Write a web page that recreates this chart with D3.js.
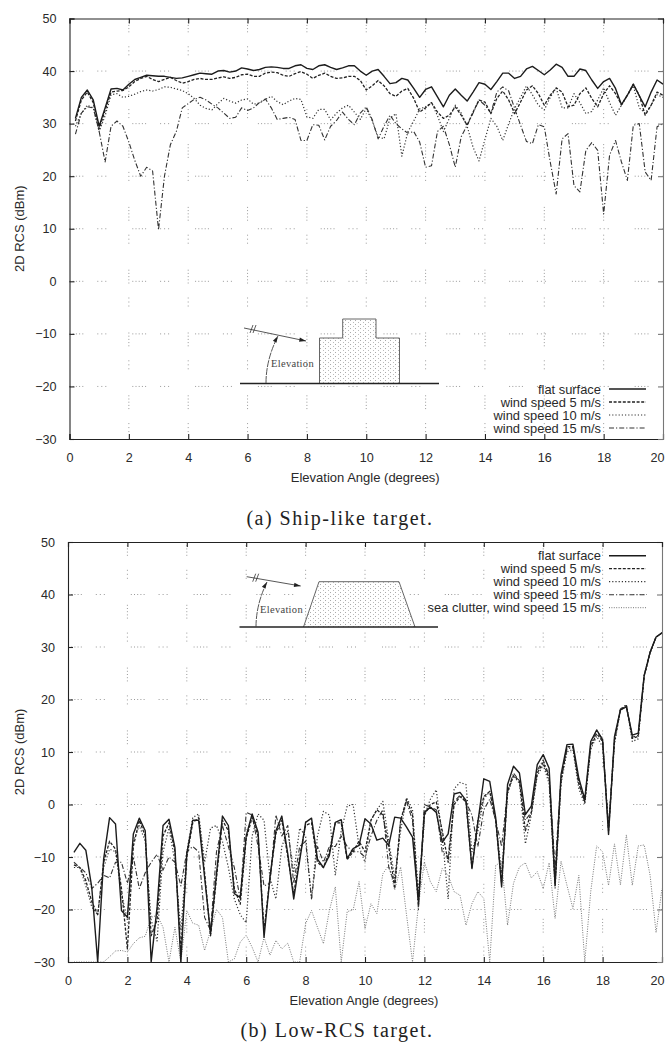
<!DOCTYPE html>
<html>
<head>
<meta charset="utf-8">
<script src="https://cdn.jsdelivr.net/npm/d3@7"></script>
<style>
  html, body { margin: 0; padding: 0; background: #fff; }
  svg { display: block; }
  text { font-family: "Liberation Sans", sans-serif; fill: #2a2a2a; }
  .caption { font-family: "Liberation Serif", serif; font-size: 20px; letter-spacing: 1.5px; fill: #222; }
  .tag { font-family: "Liberation Serif", serif; font-size: 10.5px; letter-spacing: 0.3px; fill: #444; }
</style>
</head>
<body>
<div id="chart"></div>
<script>
const angles = [
  0.2,0.4,0.6,0.8,1,1.2,1.4,1.6,1.8,2,
  2.2,2.4,2.6,2.8,3,3.2,3.4,3.6,3.8,4,
  4.2,4.4,4.6,4.8,5,5.2,5.4,5.6,5.8,6,
  6.2,6.4,6.6,6.8,7,7.2,7.4,7.6,7.8,8,
  8.2,8.4,8.6,8.8,9,9.2,9.4,9.6,9.8,10,
  10.2,10.4,10.6,10.8,11,11.2,11.4,11.6,11.8,12,
  12.2,12.4,12.6,12.8,13,13.2,13.4,13.6,13.8,14,
  14.2,14.4,14.6,14.8,15,15.2,15.4,15.6,15.8,16,
  16.2,16.4,16.6,16.8,17,17.2,17.4,17.6,17.8,18,
  18.2,18.4,18.6,18.8,19,19.2,19.4,19.6,19.8,20
];
const xTicks = [0,2,4,6,8,10,12,14,16,18,20];
const yTicks = [-30,-20,-10,0,10,20,30,40,50];

// (a) ship-like target
const shipFlat = [
  31,35,36.4,34.5,29.5,33,36.6,36.7,36.4,37.5,
  38.4,38.8,39.2,39.1,39,39,38.8,38.6,38.7,39,
  39.3,39.6,39.5,39.4,40,40.1,39.8,40,40.6,40.4,
  40.1,40.3,40.7,40.8,40.7,40.5,40.5,41,41.2,40.5,
  40.3,41,41.2,40.7,40.3,40.6,41,41,40,39.2,
  40,40.3,39,37.6,37.8,38.6,38.3,36.7,35,36.5,
  37,35.1,33.2,35.4,36.6,35.4,34.3,36,37.8,37.5,
  36.5,38,39.6,39.6,38.6,39,40.4,40.9,40.1,39.3,
  40.2,41.3,40.7,39,39,40.4,40.1,38.3,36.7,38,
  38.6,36.7,33.6,35.4,37.5,35.3,33.2,36,38.3,37.5
];
const shipWind5 = [
  30.5,34.5,36,34,29,32.5,36,36.2,36.3,37,
  38,38.6,39,38.4,38,38.4,38.8,38.2,37.7,38,
  38.4,38.6,38.4,38.4,38.7,38.9,38.6,38.8,39.3,39.4,
  39,39,39.6,39.8,39.7,39.2,39,39.5,39.9,39.4,
  38.6,39.2,39.6,39,38.6,38.7,39,39,38.2,36.4,
  37.2,38.2,37.2,35.7,35.2,36.2,36.7,34.8,32.2,33,
  34,32.2,31,31.6,33.2,31.6,29.7,32.2,34.5,34.1,
  31.9,34.8,36.2,34.5,31.9,34.1,36.4,37.2,35.7,33.5,
  35.4,36.8,36,33.2,33.5,35.7,36.8,34.8,33.2,35.7,
  37.2,35.7,33.6,35.4,37.5,35.4,31.6,33.5,36,35.4
];
const shipWind10 = [
  29.5,32,33.5,33,28.5,31.5,35.5,35.7,35,35.2,
  35.6,36.1,36.4,36.2,36.5,37,36.9,36.6,36.3,35.7,
  34.8,33.5,32.9,32.6,33.8,34.8,34.3,33.9,34.5,34.7,
  33.7,33.9,34.6,35.2,34.2,33.6,34.3,34.8,34.6,31.3,
  31,32.7,32.7,30.7,32,33,33.5,32.2,30.8,32.9,
  30.5,27.5,27.1,31,31.9,23.8,28.4,30.5,32.8,33.2,
  34,31.5,28.5,31,33.5,32,29.5,25.5,22.9,27,
  31,29.5,26.8,30,32.9,35,37.2,35.5,33.5,32.6,
  35,36.8,33,33,35.7,34,31.9,32.3,34.5,36.8,
  34,31.6,33.5,35.4,37.2,33,32,33.5,35.5,35
];
const shipWind15 = [
  28,32,33.2,33,28.5,22.7,29.5,30.5,29.5,26.5,
  23,20,21.7,21,9.8,20,26,28.5,33,33.8,
  34.6,35,34.5,33.7,33,32,31,31.2,33,32.5,
  33,34,34.7,33,30.8,31,31.2,30.8,26.8,26.8,
  29.8,29.7,26.9,29.5,30.6,32.2,30.8,29.8,32,33.2,
  30.8,27.1,29.5,31.6,30,29,28.2,28.5,26.5,21.7,
  22,28.5,29.5,26,21.7,27.5,29.7,32,34.5,33.5,
  32,36,37,36.2,32.9,29.7,26.6,26.2,29.8,29.4,
  22.7,16.6,27.1,28.1,18.2,17,24.9,26.4,24.9,12.8,
  24,26.8,22.7,19.2,29.7,30,20.8,19.2,29.4,30
];

// (b) low-RCS target
const lowFlat = [
  -9.1,-7.4,-8.7,-15.8,-30,-10.4,-2.5,-3.7,-20.2,-21.5,
  -5.6,-2.6,-5,-30,-19.5,-4,-2.8,-8.2,-30,-9.4,
  -3,-3,-13.9,-24.6,-13.2,-2.2,-4,-17,-17.7,-6,
  -1.8,-5.3,-25.3,-13.9,-5,-2.2,-9.4,-18,-10.7,-3.4,
  -2.6,-10.4,-12,-9.7,-3.4,-2.9,-10.3,-8.4,-7.8,-2.7,
  -3.7,-6.8,-6.4,-7.8,-2.4,-2.6,-4.3,-6.2,-18.5,-1.5,
  -0.5,-1.5,-7.2,-5.6,2,2.3,0.8,-12.2,-3.4,4.9,
  4.4,-2.5,-15.7,3.8,7.3,6,-1.9,-0.3,7.6,9.5,
  6.9,-15.4,5.7,11.4,11.5,5,1,12,14.2,12.3,
  -5.7,12.9,18,18.6,13.2,13.6,24.6,29,31.9,32.7
];
const lowWind5 = [
  -11.5,-12,-14.5,-18.5,-21,-11,-7,-8.5,-16,-27.5,
  -8,-3,-6,-25,-22,-6,-3.5,-9,-28,-10,
  -3.5,-2.5,-13,-25,-14,-3,-5,-16,-19,-6.5,
  -2.5,-6,-24,-14,-5.5,-3,-10,-17,-10,-4,
  -3.5,-11,-12,-9,-3.5,-3.5,-10.5,-9,-7,-9,
  -3,-1,-2,-8,-16,-3,1,-2,-19,-2,
  0,0.5,-5,-11,0,1.5,0.5,-12,-3,1.5,
  2.5,-3,-15,2.5,5.5,4.5,-5,-1.5,6,8,
  5,-15,4.5,11,11,4,0.5,11,13.5,12,
  -5,12,18,18.8,12.6,13,24.5,29,31.9,32.7
];
const lowWind10 = [
  -12,-12,-15.5,-19.5,-21,-12,-8.5,-9,-17,-22,
  -7,-4,-7,-22,-26,-9,-4.5,-11,-24,-9,
  -2.5,-1.8,-11,-4.5,-4,-7,-12,-18,-21,-22.5,
  -6,-1.8,-3,-14,-18,-8,-5,-13,-4.5,-6,
  -18,-6,-1.3,-2,-13.5,-5,-0.3,0,-8,-11,
  -3,-1,0.6,-7,-14,-5,1.3,-1,-17,-2,
  1,2.8,-6,-18,3,4.2,3.8,-9,-5,1,
  2.5,-3,-13,2,5.5,4,-7.5,-2,5.5,7.5,
  4,-16,4,10,10.5,3,0,10.5,13,11,
  -4,11.5,18,19,12,12.5,24.4,28.8,31.8,32.7
];
const lowWind15 = [
  -11,-12,-13,-16,-15,-13.5,-14,-11,-11,-15,
  -10,-16,-13,-11,-9.5,-12.5,-10,-11,-15.5,-9,
  -8,-9,-21.5,-24,-9,-4,-8,-12,-18,-1.5,
  -2,-8,-15.5,-15,-2,-6,-4,-15,-8,-7,
  -18,-8,-11,-8,-8,-6,-8,-9,-9,-10,
  -6,-3,-1,-12,-15,-3,0.5,-3,-20,0,
  -0.5,-1,-9,-10,0.5,1.8,0.5,-2,-8,-1,
  1,-3,-8,2.5,6,4.5,-3,-1.5,6.5,8.5,
  5.5,-12,5,10.5,11,4,0.5,11.5,14,12.5,
  -4.5,12.5,18.2,19,12.8,13.2,24.5,29,31.9,32.7
];
const lowClutter = [
  -30,-30,-30,-30,-30,-30,-29,-27.9,-27.8,-28.1,
  -26.5,-25.4,-25.1,-21.5,-21.1,-23.4,-30,-23.4,-30,-20.2,
  -22.6,-23,-27.8,-24,-20,-21.5,-30,-29.4,-26.2,-24.9,
  -27.2,-30,-25.3,-28.7,-25.9,-27.5,-26.4,-30,-30,-22.7,
  -20.2,-23.4,-26.5,-20.2,-15.7,-30,-20.4,-20.1,-14.7,-23.6,
  -18.9,-20.8,-13.2,-11.6,-16.3,-11.9,-21.1,-30,-19.2,-10.9,
  -14.7,-16.6,-12.2,-13.5,-16.6,-17.3,-23,-18.9,-16.6,-17.9,
  -30,-11.6,-10.9,-23,-15,-11.9,-11.1,-14,-12.8,-16,
  -11.1,-21.7,-10.8,-15.4,-19.8,-13.5,-30,-16.6,-7.9,-9,
  -15.4,-7.5,-15.3,-5.8,-15.4,-7.9,-7.7,-13.5,-24.4,-16
];

const seriesNames = ["flat surface", "wind speed 5 m/s", "wind speed 10 m/s", "wind speed 15 m/s", "sea clutter, wind speed 15 m/s"];
const styles = [
  { width: 1.4, dash: null, color: "#1c1c1c" },
  { width: 1.3, dash: "3 1.6", color: "#222" },
  { width: 1.2, dash: "1.2 2", color: "#333" },
  { width: 1.1, dash: "5 2 1.2 2", color: "#333" },
  { width: 0.9, dash: "1 1.4", color: "#666" }
];

const svg = d3.select("#chart").append("svg")
  .attr("width", 665)
  .attr("height", 1042);

// stipple used to fill the target sketches
const pattern = svg.append("defs").append("pattern")
  .attr("id", "stipple")
  .attr("width", 5)
  .attr("height", 4)
  .attr("patternUnits", "userSpaceOnUse");
pattern.append("rect").attr("x", 0).attr("y", 0).attr("width", 1).attr("height", 1).attr("fill", "#aaa");
pattern.append("rect").attr("x", 3).attr("y", 2).attr("width", 1).attr("height", 1).attr("fill", "#bbb");

function drawPanel(left, right, top, bottom, series, legendY, clipId) {
  const x = d3.scaleLinear().domain([0, 20]).range([left, right]);
  const y = d3.scaleLinear().domain([-30, 50]).range([bottom, top]);
  const g = svg.append("g");

  // patchy dotted grid, like the scanned original
  const gridDash = "1 2.2 1 2.2 1 2.2 1 2.2 1 14 1 3 1 3 1 26";
  g.append("g").selectAll("line")
    .data(xTicks.slice(1, -1))
    .join("line")
    .attr("x1", d => x(d)).attr("x2", d => x(d))
    .attr("y1", top).attr("y2", bottom)
    .attr("stroke", "#999")
    .attr("stroke-dasharray", gridDash);
  g.append("g").selectAll("line")
    .data(yTicks.slice(1, -1))
    .join("line")
    .attr("x1", left).attr("x2", right)
    .attr("y1", d => y(d)).attr("y2", d => y(d))
    .attr("stroke", "#999")
    .attr("stroke-dasharray", gridDash);

  g.append("clipPath").attr("id", clipId)
    .append("rect")
    .attr("x", left).attr("y", top)
    .attr("width", right - left).attr("height", bottom - top);

  const line = d3.line()
    .x((d, i) => x(angles[i]))
    .y(d => y(d));

  g.append("g").attr("clip-path", `url(#${clipId})`)
    .selectAll("path")
    .data(series.slice().reverse())
    .join("path")
    .attr("fill", "none")
    .attr("d", line)
    .attr("stroke", (d, i) => styles[series.length - 1 - i].color)
    .attr("stroke-width", (d, i) => styles[series.length - 1 - i].width)
    .attr("stroke-dasharray", (d, i) => styles[series.length - 1 - i].dash)
    .attr("stroke-linejoin", "round");

  const axisLeft = d3.axisLeft(y).tickValues(yTicks).tickSize(-5).tickPadding(13);
  const axisBottom = d3.axisBottom(x).tickValues(xTicks).tickSize(-5).tickPadding(14);
  const axisRight = d3.axisRight(y).tickValues(yTicks).tickSize(-5).tickFormat("");
  const axisTop = d3.axisTop(x).tickValues(xTicks).tickSize(-5).tickFormat("");

  const gl = g.append("g").attr("transform", `translate(${left},0)`).call(axisLeft);
  const gb = g.append("g").attr("transform", `translate(0,${bottom})`).call(axisBottom);
  const gr = g.append("g").attr("transform", `translate(${right},0)`).call(axisRight);
  const gt = g.append("g").attr("transform", `translate(0,${top})`).call(axisTop);
  [gl, gb].forEach(a => a.selectAll("text").attr("font-size", 12.6).attr("font-family", "Liberation Sans"));
  [gl, gb, gt].forEach(a => a.selectAll("path,line").attr("stroke", "#222").attr("stroke-width", 1.1));
  gr.selectAll("path,line").attr("stroke", "#777").attr("stroke-width", 1.1);
  // last label sits against the page edge
  gb.selectAll(".tick").filter(d => d === 20).select("text")
    .attr("text-anchor", "end")
    .attr("dx", 664 - right);

  g.append("text")
    .attr("x", (left + right) / 2 - 1)
    .attr("y", bottom + 43)
    .attr("text-anchor", "middle")
    .attr("font-size", 13)
    .text("Elevation Angle (degrees)");
  g.append("text")
    .attr("transform", `translate(24,${(top + bottom) / 2}) rotate(-90)`)
    .attr("text-anchor", "middle")
    .attr("font-size", 13)
    .text("2D RCS (dBm)");

  // legend
  const legend = g.append("g").selectAll("g")
    .data(series.map((d, i) => i))
    .join("g")
    .attr("transform", i => `translate(0,${legendY + i * 13})`);
  legend.append("text")
    .attr("x", 601)
    .attr("dy", "0.35em")
    .attr("text-anchor", "end")
    .attr("font-size", 12.9)
    .text(i => seriesNames[i]);
  legend.append("line")
    .attr("x1", 609).attr("x2", 646)
    .attr("stroke", i => styles[i].color)
    .attr("stroke-width", i => styles[i].width)
    .attr("stroke-dasharray", i => styles[i].dash);
}

function drawSketch(outline, groundY, groundLeft, groundRight, ray, arc, tagX, tagY) {
  const g = svg.append("g");
  g.append("path").attr("d", outline).attr("fill", "#fff").attr("stroke", "none");
  g.append("path").attr("d", outline).attr("fill", "url(#stipple)").attr("stroke", "none");
  g.append("path").attr("d", outline).attr("fill", "none").attr("stroke", "#555").attr("stroke-width", 0.9);
  g.append("line")
    .attr("x1", groundLeft).attr("x2", groundRight)
    .attr("y1", groundY).attr("y2", groundY)
    .attr("stroke", "#222").attr("stroke-width", 1.3);
  g.append("line")
    .attr("x1", ray[0]).attr("y1", ray[1]).attr("x2", ray[2]).attr("y2", ray[3])
    .attr("stroke", "#444").attr("stroke-width", 0.9);
  // arrow head at the end of the ray
  const ang = Math.atan2(ray[3] - ray[1], ray[2] - ray[0]);
  const head = (px, py, a) => [[px, py],
    [px - 7 * Math.cos(a - 0.3), py - 7 * Math.sin(a - 0.3)],
    [px - 7 * Math.cos(a + 0.3), py - 7 * Math.sin(a + 0.3)]].join(" ");
  g.append("polygon").attr("points", head(ray[2], ray[3], ang)).attr("fill", "#222");
  // the two slashes across the ray
  [0, 3].forEach(k => {
    g.append("line")
      .attr("x1", ray[0] + 6 + k).attr("y1", ray[1] + 5)
      .attr("x2", ray[0] + 9 + k).attr("y2", ray[1] - 3)
      .attr("stroke", "#333").attr("stroke-width", 0.8);
  });
  g.append("path")
    .attr("d", `M${arc[0]},${arc[1]} Q${arc[0]},${(arc[1] + arc[3]) / 2} ${arc[2]},${arc[3]}`)
    .attr("fill", "none").attr("stroke", "#444").attr("stroke-width", 0.9).attr("stroke-dasharray", "7 1");
  g.append("polygon").attr("points", head(arc[2], arc[3], -1.05)).attr("fill", "#222");
  g.append("text").attr("class", "tag").attr("x", tagX).attr("y", tagY).text("Elevation");
}

drawPanel(69.5, 663, 18.5, 439, [shipFlat, shipWind5, shipWind10, shipWind15], 389, "clipA");
drawPanel(68, 662, 542, 962, [lowFlat, lowWind5, lowWind10, lowWind15, lowClutter], 555.7, "clipB");

drawSketch("M319.5,383.5V338H342.7V319H376V338H399.5V383.5", 383.5, 240, 439,
  [244, 328, 306, 341], [266, 383, 278, 336], 271, 367);
drawSketch("M303.5,627L319,581.7H399L415,627", 627, 239.5, 438,
  [246.7, 576.7, 300.7, 586], [256, 627, 267, 582], 260, 613);

svg.append("text").attr("class", "caption").attr("x", 340).attr("y", 525).attr("text-anchor", "middle").text("(a) Ship-like target.");
svg.append("text").attr("class", "caption").attr("x", 337).attr("y", 1037).attr("text-anchor", "middle").text("(b) Low-RCS target.");
</script>
</body>
</html>
